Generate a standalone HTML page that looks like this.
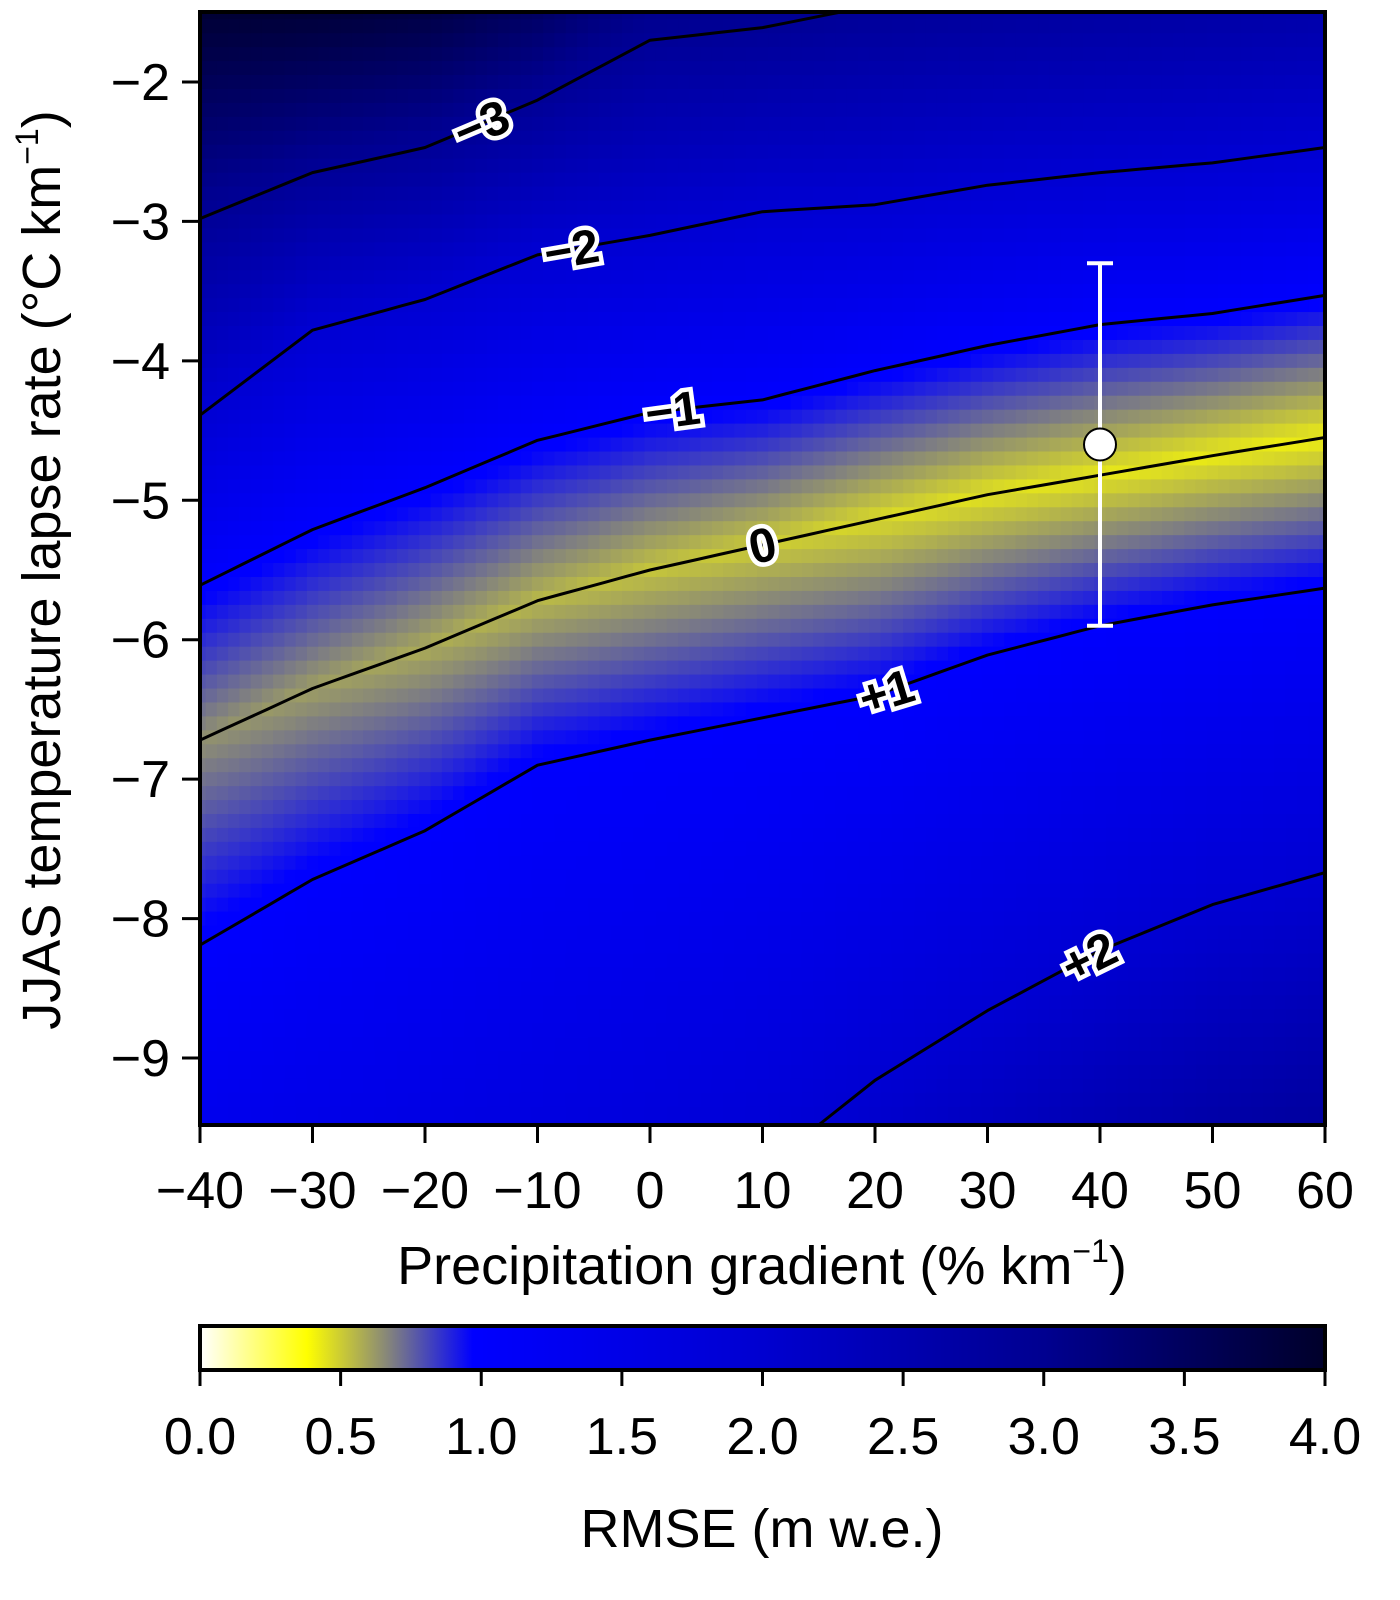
<!DOCTYPE html>
<html><head><meta charset="utf-8"><style>
body{margin:0;background:#fff;}
svg{display:block;font-family:"Liberation Sans",sans-serif;}
</style></head><body>
<svg id="chart" width="1400" height="1600" viewBox="0 0 1400 1600">
<defs><clipPath id="pc"><rect x="200" y="12" width="1125" height="1113"/></clipPath>
<linearGradient id="cbg" x1="0" x2="1" y1="0" y2="0">
<stop offset="0" stop-color="#ffffff"/><stop offset="0.095" stop-color="#ffff00"/><stop offset="0.17" stop-color="#808080"/><stop offset="0.2425" stop-color="#0000ff"/><stop offset="0.5" stop-color="#0000d0"/><stop offset="0.75" stop-color="#000090"/><stop offset="1" stop-color="#00002a"/></linearGradient></defs>
<g id="heat" clip-path="url(#pc)"></g>
<g id="contours" clip-path="url(#pc)"></g>
<g id="labels"></g>
<g id="errbar"></g>
<rect x="200" y="12" width="1125" height="1113" fill="none" stroke="#000" stroke-width="4"/>
<g id="axes" font-size="52" fill="#000"></g>
<text x="762" y="1284" font-size="54" text-anchor="middle">Precipitation gradient (% km<tspan dy="-22" font-size="32">−1</tspan><tspan dy="22">)</tspan></text>
<text transform="translate(60,570) rotate(-90)" font-size="54" text-anchor="middle">JJAS temperature lapse rate (°C km<tspan dy="-22" font-size="32">−1</tspan><tspan dy="22">)</tspan></text>
<rect x="200" y="1326" width="1125" height="44" fill="url(#cbg)" stroke="#000" stroke-width="4"/>
<g id="cbaxis" font-size="52"></g>
<text x="762" y="1547" font-size="54" text-anchor="middle">RMSE (m w.e.)</text>
</svg>
<script>
const xCats = [-40,-30,-20,-10,0,10,20,30,40,50,60];
const levels = [-3,-2,-1,0,1,2];
const cM3 = [-2.98,-2.65,-2.47,-2.13,-1.7,-1.61,-1.45,-1.35,-1.25,-1.15,-1.05];
const cM2 = [-4.39,-3.78,-3.56,-3.24,-3.1,-2.93,-2.88,-2.74,-2.65,-2.58,-2.47];
const cM1 = [-5.61,-5.21,-4.91,-4.57,-4.37,-4.28,-4.07,-3.89,-3.74,-3.66,-3.53];
const c0 = [-6.72,-6.35,-6.06,-5.72,-5.5,-5.32,-5.14,-4.96,-4.82,-4.68,-4.55];
const cP1 = [-8.19,-7.72,-7.37,-6.9,-6.72,-6.56,-6.4,-6.11,-5.9,-5.75,-5.63];
const cP2 = [-11.5,-11.2,-10.9,-10.6,-10.2,-9.8,-9.16,-8.66,-8.23,-7.9,-7.67];
const minRmse = [0.64,0.61,0.58,0.55,0.52,0.5,0.47,0.45,0.44,0.43,0.42];
const xTicks = [-40,-30,-20,-10,0,10,20,30,40,50,60];
const yTicks = [-2,-3,-4,-5,-6,-7,-8,-9];
const cbTicks = [0,0.5,1,1.5,2,2.5,3,3.5,4];
const cbLabels = ["0.0","0.5","1.0","1.5","2.0","2.5","3.0","3.5","4.0"];
const estX = [40], estY = [-4.6], estLo = [-5.9], estHi = [-3.3];
const contourLabels = [{lv:-3,x:-15,t:"−3"},{lv:-2,x:-7,t:"−2"},{lv:-1,x:2,t:"−1"},{lv:0,x:10,t:"0"},{lv:1,x:21,t:"+1"},{lv:2,x:39,t:"+2"}];

const X = v => 200 + (v + 40) * 11.25;
const Y = v => 82 + (-2 - v) * 139.43;
const CB = v => 200 + v * 281.25;
const NS = "http://www.w3.org/2000/svg";
function mk(tag, attrs, parent){const e=document.createElementNS(NS,tag);for(const k in attrs)e.setAttribute(k,attrs[k]);parent.appendChild(e);return e;}
const contourSets = [cM3,cM2,cM1,c0,cP1,cP2];
function interp(arr, x){
  let i=Math.min(Math.max(Math.floor((x-xCats[0])/10),0),xCats.length-2);
  const t=(x-xCats[i])/(xCats[i+1]-xCats[i]);return arr[i]+(arr[i+1]-arr[i])*t;}
function bias(x,y){
  const ys=contourSets.map(a=>interp(a,x));
  let k=0;
  if(y>=ys[0]) k=0; else if(y<=ys[5]) k=4; else {for(k=0;k<5;k++){if(y<=ys[k]&&y>=ys[k+1])break;}}
  const t=(ys[k]-y)/(ys[k]-ys[k+1]);return levels[k]+t;}
const stops=[[0,[255,255,255]],[0.38,[255,255,0]],[0.68,[128,128,128]],[0.97,[0,0,255]],[2,[0,0,208]],[3,[0,0,144]],[4,[0,0,42]]];
function cmap(v){v=Math.max(0,Math.min(4,v));
  for(let i=0;i<stops.length-1;i++){const [a,ca]=stops[i],[b,cb]=stops[i+1];
    if(v<=b){const t=(v-a)/(b-a);return `rgb(${ca.map((c,j)=>Math.round(c+(cb[j]-c)*t)).join(",")})`;}}
  return "rgb(0,0,42)";}
function rmse(m,b){const a=Math.abs(b);return a<=1? m+(1-m)*a : 1+0.95*(a-1);}
const heat=document.getElementById("heat");
for(let x=-40;x<=60;x+=1){
  const m=interp(minRmse,x);
  for(let yi=-15;yi>=-95;yi-=1){const y=yi/10;
    const r=rmse(m,bias(x,y));
    const el=mk("rect",{x:X(x-0.5),y:Y(y+0.05),width:11.75,height:14.4,fill:cmap(r)},heat);
    
    }}
const cg=document.getElementById("contours");
contourSets.forEach((arr,k)=>{
  let d="";for(let x=-40;x<=60;x+=2){d+=(x===-40?"M":"L")+X(x).toFixed(1)+","+Y(interp(arr,x)).toFixed(1);}
  const p=mk("path",{d:d,fill:"none",stroke:"#000","stroke-width":3,"stroke-linejoin":"round"},cg);
  
  });
const lg=document.getElementById("labels");
contourLabels.forEach(c=>{
  const arr=contourSets[levels.indexOf(c.lv)];
  const px=X(c.x),py=Y(interp(arr,c.x));
  const ang=Math.atan2(Y(interp(arr,c.x+3))-Y(interp(arr,c.x-3)),X(c.x+3)-X(c.x-3))*180/Math.PI;
  const t=mk("text",{x:0,y:17,"font-size":48,"font-weight":"bold","text-anchor":"middle",fill:"#000",stroke:"#fff","stroke-width":9,"paint-order":"stroke",transform:`translate(${px},${py}) rotate(${ang})`},lg);
  t.textContent=c.t;
  
  });
const eb=document.getElementById("errbar");
estX.forEach((ex,i)=>{
  const l=mk("path",{d:`M${X(ex)},${Y(estHi[i])}V${Y(estLo[i])}M${X(ex)-13},${Y(estHi[i])}h26M${X(ex)-13},${Y(estLo[i])}h26`,stroke:"#fff","stroke-width":4,fill:"none"},eb);
  
  
  const c=mk("circle",{cx:X(ex),cy:Y(estY[i]),r:16,fill:"#fff",stroke:"#000","stroke-width":2},eb);
  
  });
const ax=document.getElementById("axes");
xTicks.forEach(v=>{
  const l=mk("line",{x1:X(v),x2:X(v),y1:1125,y2:1143,stroke:"#000","stroke-width":3},ax);
  
  
  const t=mk("text",{x:X(v),y:1208,"text-anchor":"middle"},ax);t.textContent=v<0?"−"+(-v):String(v);
  
  });
yTicks.forEach(v=>{
  const l=mk("line",{x1:182,x2:200,y1:Y(v),y2:Y(v),stroke:"#000","stroke-width":3},ax);
  
  
  const t=mk("text",{x:170,y:Y(v)+18,"text-anchor":"end"},ax);t.textContent="−"+(-v);
  
  });
const cba=document.getElementById("cbaxis");
cbTicks.forEach((v,i)=>{
  const l=mk("line",{x1:CB(v),x2:CB(v),y1:1370,y2:1386,stroke:"#000","stroke-width":3},cba);
  
  
  const t=mk("text",{x:CB(v),y:1454,"text-anchor":"middle"},cba);t.textContent=cbLabels[i];
  
  });
</script>
</body></html>
